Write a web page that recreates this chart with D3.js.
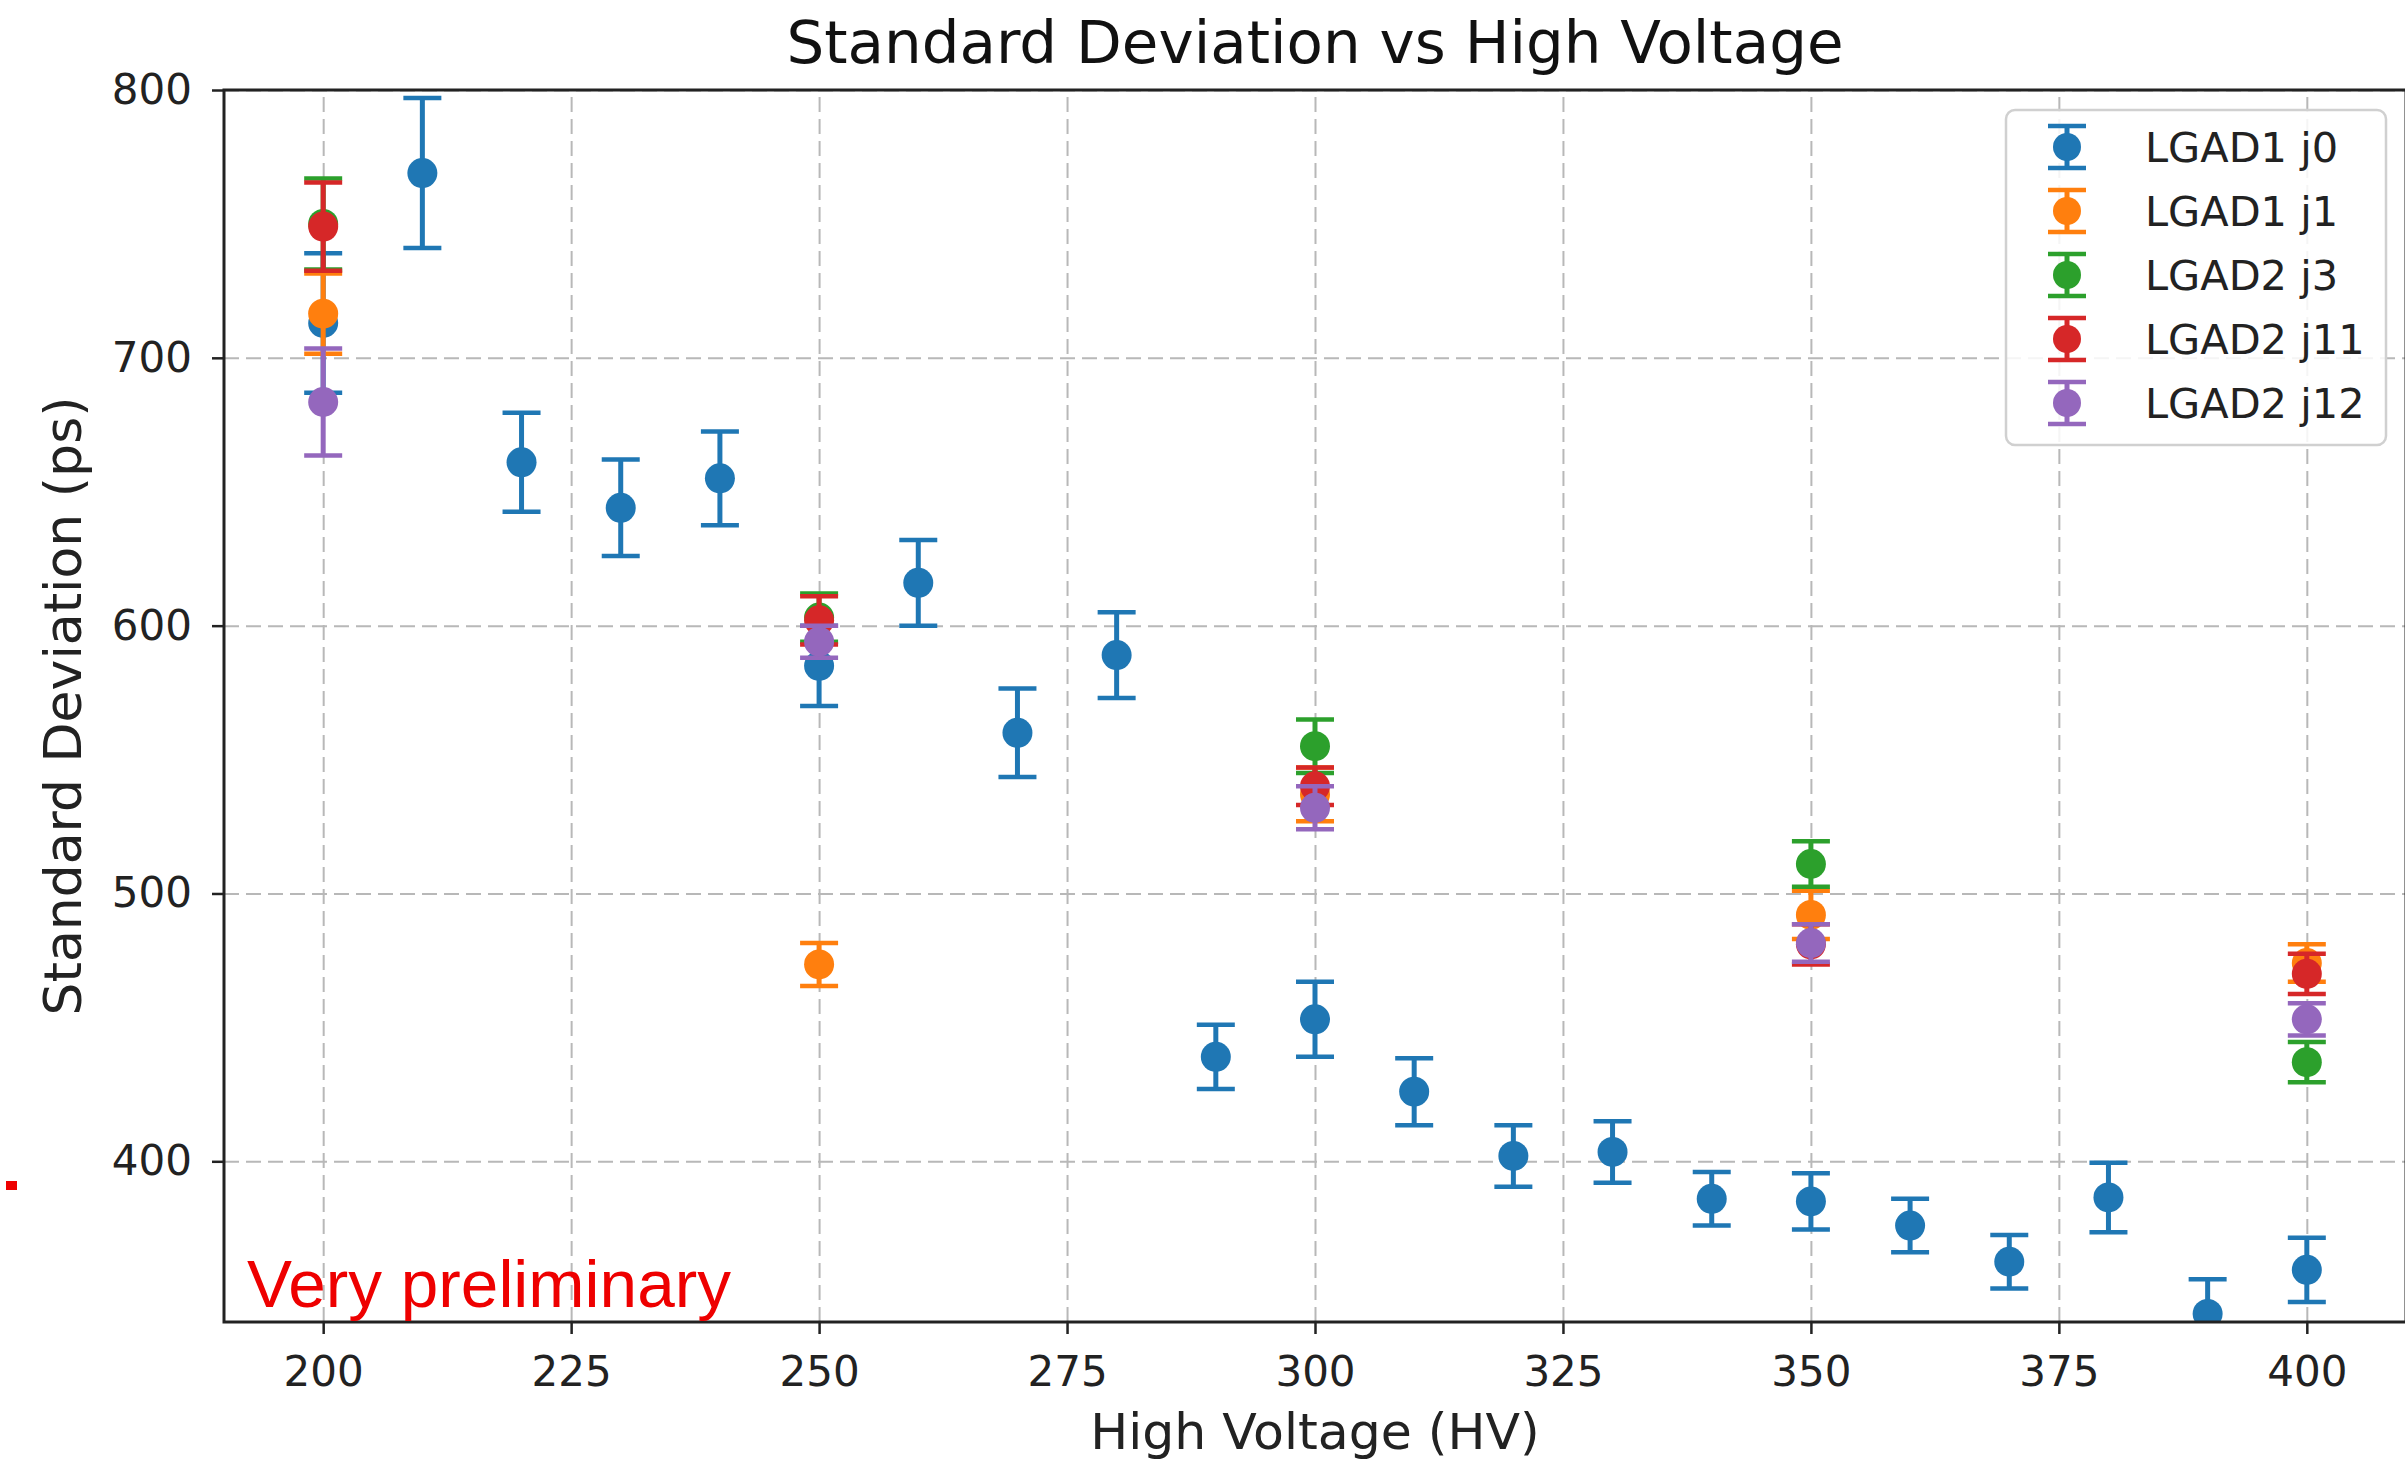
<!DOCTYPE html>
<html>
<head>
<meta charset="utf-8">
<script src="https://cdn.jsdelivr.net/npm/d3@7"></script>
<style>
  html, body { margin: 0; padding: 0; background: #ffffff; }
  svg { display: block; }
</style>
</head>
<body>
<script>
// High voltage settings (V) and measured timing spread (ps) with uncertainties
const hvScan = [200, 210, 220, 230, 240, 250, 260, 270, 280, 290, 300,
                310, 320, 330, 340, 350, 360, 370, 380, 390, 400];
const j0Sigma = [713, 769, 661, 644, 655, 585, 616, 560, 589, 439, 453,
                 426, 402, 403.5, 386, 385, 376, 362.5, 386.5, 343, 359.5];
const j0Err   = [26, 28, 18.5, 18, 17.5, 15, 16, 16.5, 16, 12, 14,
                 12.5, 11.5, 11.5, 10, 10.5, 10, 10, 13, 13, 12];

const hvCoarse = [200, 250, 300, 350, 400];
const j1Sigma  = [716.5, 473.5, 537, 492, 474];
const j1Err    = [15, 8, 10, 9, 7];
const j3Sigma  = [750, 603, 555, 511, 437];
const j3Err    = [17, 9, 10, 8.5, 7.5];
const j11Sigma = [749, 602, 540, 481, 470];
const j11Err   = [16.5, 9, 7, 7.5, 7.5];
const j12Sigma = [683.5, 594, 532, 481.5, 453];
const j12Err   = [20, 6, 8, 7, 6];

const seriesNames  = ["LGAD1 j0", "LGAD1 j1", "LGAD2 j3", "LGAD2 j11", "LGAD2 j12"];
const seriesColors = ["#1f77b4", "#ff7f0e", "#2ca02c", "#d62728", "#9467bd"];

const xTickValues = [200, 225, 250, 275, 300, 325, 350, 375, 400];
const yTickValues = [400, 500, 600, 700, 800];
const xDomain = [190, 410];
const yDomain = [340, 800];

const titleText = "Standard Deviation vs High Voltage";
const xLabelText = "High Voltage (HV)";
const yLabelText = "Standard Deviation (ps)";
const noteText = "Very preliminary";

// Assemble series records from the arrays above
function zipSeries(xs, ys, es) {
  return xs.map((x, i) => ({ x: x, y: ys[i], e: es[i] }));
}
const series = [
  zipSeries(hvScan, j0Sigma, j0Err),
  zipSeries(hvCoarse, j1Sigma, j1Err),
  zipSeries(hvCoarse, j3Sigma, j3Err),
  zipSeries(hvCoarse, j11Sigma, j11Err),
  zipSeries(hvCoarse, j12Sigma, j12Err)
].map((pts, i) => ({ name: seriesNames[i], color: seriesColors[i], points: pts }));

const W = 2405, H = 1460;
const plot = { left: 224, right: 2406, top: 90, bottom: 1322 };
const FONT = "'DejaVu Sans', sans-serif";

const svg = d3.select("body").append("svg")
  .attr("width", W).attr("height", H)
  .attr("viewBox", `0 0 ${W} ${H}`);

svg.append("rect").attr("width", W).attr("height", H).attr("fill", "#ffffff");

const x = d3.scaleLinear().domain(xDomain).range([plot.left, plot.right]);
const y = d3.scaleLinear().domain(yDomain).range([plot.bottom, plot.top]);
const pw = plot.right - plot.left, ph = plot.bottom - plot.top;

// Dashed grid
const grid = svg.append("g").attr("class", "grid");
grid.append("g")
  .attr("transform", `translate(0,${plot.bottom})`)
  .call(d3.axisBottom(x).tickValues(xTickValues).tickSize(-ph).tickFormat(""))
  .call(g => g.select(".domain").remove());
grid.append("g")
  .attr("transform", `translate(${plot.left},0)`)
  .call(d3.axisLeft(y).tickValues(yTickValues).tickSize(-pw).tickFormat(""))
  .call(g => g.select(".domain").remove());
grid.selectAll("line")
  .attr("stroke", "#b8b8b8")
  .attr("stroke-width", 2)
  .attr("stroke-dasharray", "15,7");

// Data layer, clipped to the axes area
svg.append("clipPath").attr("id", "plot-clip")
  .append("rect")
  .attr("x", plot.left).attr("y", plot.top)
  .attr("width", pw).attr("height", ph);

const capHalf = 19, dotR = 15, barW = 5;
const dataLayer = svg.append("g").attr("clip-path", "url(#plot-clip)");

series.forEach(s => {
  const g = dataLayer.append("g").attr("class", "series");
  const pts = g.selectAll("g.pt").data(s.points).enter().append("g").attr("class", "pt");
  pts.append("line")
    .attr("x1", d => x(d.x)).attr("x2", d => x(d.x))
    .attr("y1", d => y(d.y - d.e)).attr("y2", d => y(d.y + d.e))
    .attr("stroke", s.color).attr("stroke-width", barW);
  pts.append("line")
    .attr("x1", d => x(d.x) - capHalf).attr("x2", d => x(d.x) + capHalf)
    .attr("y1", d => y(d.y + d.e)).attr("y2", d => y(d.y + d.e))
    .attr("stroke", s.color).attr("stroke-width", barW - 0.5);
  pts.append("line")
    .attr("x1", d => x(d.x) - capHalf).attr("x2", d => x(d.x) + capHalf)
    .attr("y1", d => y(d.y - d.e)).attr("y2", d => y(d.y - d.e))
    .attr("stroke", s.color).attr("stroke-width", barW - 0.5);
  pts.append("circle")
    .attr("cx", d => x(d.x)).attr("cy", d => y(d.y))
    .attr("r", dotR).attr("fill", s.color);
});

// Axes with ticks and labels
const xAxis = svg.append("g")
  .attr("transform", `translate(0,${plot.bottom})`)
  .call(d3.axisBottom(x).tickValues(xTickValues).tickSize(12).tickPadding(22).tickFormat(d3.format("d")));
const yAxis = svg.append("g")
  .attr("transform", `translate(${plot.left},0)`)
  .call(d3.axisLeft(y).tickValues(yTickValues).tickSize(12).tickPadding(20).tickFormat(d3.format("d")));
[xAxis, yAxis].forEach(a => {
  a.select(".domain").remove();
  a.selectAll(".tick line").attr("stroke", "#222").attr("stroke-width", 2.5);
  a.selectAll(".tick text")
    .attr("fill", "#222")
    .style("font-family", FONT)
    .style("font-size", "42px");
});

// Frame
svg.append("rect")
  .attr("x", plot.left).attr("y", plot.top)
  .attr("width", pw).attr("height", ph)
  .attr("fill", "none").attr("stroke", "#222").attr("stroke-width", 3);

// Title and axis labels
svg.append("text")
  .attr("x", (plot.left + plot.right) / 2).attr("y", 63)
  .attr("text-anchor", "middle")
  .attr("fill", "#111")
  .style("font-family", FONT).style("font-size", "59.5px")
  .text(titleText);

svg.append("text")
  .attr("x", (plot.left + plot.right) / 2).attr("y", 1449)
  .attr("text-anchor", "middle")
  .attr("fill", "#222")
  .style("font-family", FONT).style("font-size", "50.5px")
  .text(xLabelText);

svg.append("text")
  .attr("transform", `translate(81,${(plot.top + plot.bottom) / 2}) rotate(-90)`)
  .attr("text-anchor", "middle")
  .attr("fill", "#222")
  .style("font-family", FONT).style("font-size", "52px")
  .text(yLabelText);

// Annotation
svg.append("text")
  .attr("x", 247).attr("y", 1307)
  .attr("fill", "#ee0000")
  .style("font-family", "'Liberation Sans', Arial, sans-serif")
  .style("font-size", "67.5px")
  .text(noteText);

svg.append("rect")
  .attr("x", 6).attr("y", 1181).attr("width", 11).attr("height", 9)
  .attr("fill", "#ee0000");

// Legend
const legend = svg.append("g").attr("class", "legend");
const lg = { x: 2006, y: 110, w: 380, h: 335, rowH: 64, firstRow: 147 };
legend.append("rect")
  .attr("x", lg.x).attr("y", lg.y).attr("width", lg.w).attr("height", lg.h)
  .attr("rx", 9).attr("ry", 9)
  .attr("fill", "#ffffff").attr("fill-opacity", 0.85)
  .attr("stroke", "#d0d0d0").attr("stroke-width", 2.5);

const rows = legend.selectAll("g.row").data(series).enter().append("g")
  .attr("class", "row")
  .attr("transform", (d, i) => `translate(0,${lg.firstRow + i * lg.rowH})`);
const hx = 2067, hHalf = 21;
rows.append("line")
  .attr("x1", hx).attr("x2", hx).attr("y1", -hHalf).attr("y2", hHalf)
  .attr("stroke", d => d.color).attr("stroke-width", barW);
rows.append("line")
  .attr("x1", hx - capHalf).attr("x2", hx + capHalf).attr("y1", -hHalf).attr("y2", -hHalf)
  .attr("stroke", d => d.color).attr("stroke-width", barW - 0.5);
rows.append("line")
  .attr("x1", hx - capHalf).attr("x2", hx + capHalf).attr("y1", hHalf).attr("y2", hHalf)
  .attr("stroke", d => d.color).attr("stroke-width", barW - 0.5);
rows.append("circle")
  .attr("cx", hx).attr("cy", 0).attr("r", 14).attr("fill", d => d.color);
rows.append("text")
  .attr("x", 2145).attr("y", 15)
  .attr("fill", "#222")
  .style("font-family", FONT).style("font-size", "41.5px")
  .text(d => d.name);
</script>
</body>
</html>
